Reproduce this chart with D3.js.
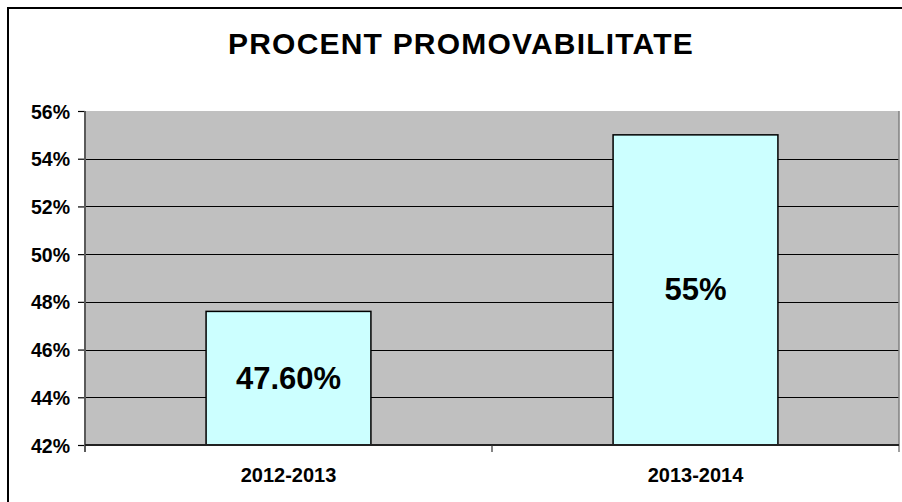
<!DOCTYPE html>
<html>
<head>
<meta charset="utf-8">
<script src="https://cdn.jsdelivr.net/npm/d3@7"></script>
<style>
  html, body { margin: 0; padding: 0; background: #fff; }
  svg { display: block; font-family: "Liberation Sans", Arial, sans-serif; }
</style>
</head>
<body>
<svg id="chart" width="902" height="502"></svg>
<script>
const title = "PROCENT PROMOVABILITATE";
const categories = ["2012-2013", "2013-2014"];
const values = [47.6, 55];
const valueLabels = ["47.60%", "55%"];
const yTicks = [42, 44, 46, 48, 50, 52, 54, 56];

const svg = d3.select("#chart");
const W = 902, H = 502;
const plot = { left: 85, right: 899, top: 111, bottom: 445 };

// outer frame
svg.append("rect")
  .attr("x", 8).attr("y", 8).attr("width", W).attr("height", H)
  .attr("fill", "#fff").attr("stroke", "#000").attr("stroke-width", 2);

const y = d3.scaleLinear().domain([42, 56]).range([plot.bottom, plot.top]);
const x = d3.scaleBand().domain(categories).range([plot.left, plot.right]).paddingInner(0).paddingOuter(0);

// plot background
svg.append("rect")
  .attr("x", plot.left).attr("y", plot.top)
  .attr("width", plot.right - plot.left).attr("height", plot.bottom - plot.top)
  .attr("fill", "#C0C0C0");

// gridlines
svg.append("g").selectAll("line")
  .data(yTicks.filter(t => t > 42 && t < 56))
  .join("line")
  .attr("x1", plot.left).attr("x2", plot.right)
  .attr("y1", d => Math.round(y(d)) + 0.5).attr("y2", d => Math.round(y(d)) + 0.5)
  .attr("stroke", "#000").attr("stroke-width", 1);

// bars
const barFrac = 0.405;
svg.append("g").selectAll("rect")
  .data(values)
  .join("rect")
  .attr("x", (d, i) => x(categories[i]) + x.bandwidth() * (1 - barFrac) / 2)
  .attr("width", x.bandwidth() * barFrac)
  .attr("y", d => y(d))
  .attr("height", d => plot.bottom - y(d))
  .attr("fill", "#CCFFFF")
  .attr("stroke", "#000").attr("stroke-width", 1.5);

// value labels
svg.append("g").selectAll("text")
  .data(values)
  .join("text")
  .attr("x", (d, i) => x(categories[i]) + x.bandwidth() / 2)
  .attr("y", d => (y(d) + plot.bottom) / 2 + 10.5)
  .attr("text-anchor", "middle")
  .attr("font-size", 31).attr("font-weight", "bold").attr("fill", "#000")
  .text((d, i) => valueLabels[i]);

// y axis
const yAxis = d3.axisLeft(y).tickValues(yTicks).tickSize(7).tickPadding(8)
  .tickFormat(d => d + "%");
const gy = svg.append("g").attr("transform", `translate(${plot.left},0)`).call(yAxis);
gy.select(".domain").remove();
gy.selectAll(".tick line").attr("stroke", "#000").attr("stroke-width", 1.2);
gy.selectAll(".tick text")
  .attr("font-size", 19.5).attr("font-weight", "bold").attr("fill", "#000")
  .attr("font-family", "'Liberation Sans', Arial, sans-serif")
  .attr("x", -15).attr("dy", "0.36em");

// left axis line (gray)
svg.append("line")
  .attr("x1", plot.left).attr("x2", plot.left)
  .attr("y1", plot.top).attr("y2", plot.bottom + 7)
  .attr("stroke", "#5a5a5a").attr("stroke-width", 2);
// right edge line
svg.append("line")
  .attr("x1", plot.right).attr("x2", plot.right)
  .attr("y1", plot.top).attr("y2", plot.bottom + 7)
  .attr("stroke", "#808080").attr("stroke-width", 1.5);

// x axis
const gx = svg.append("g").attr("transform", `translate(0,${plot.bottom})`);
gx.append("line")
  .attr("x1", plot.left).attr("x2", plot.right)
  .attr("y1", 0).attr("y2", 0)
  .attr("stroke", "#222").attr("stroke-width", 2);
const xTickPos = [plot.left, plot.left + x.bandwidth(), plot.right];
gx.selectAll(".xt").data(xTickPos.slice(1, 2)).join("line")
  .attr("class", "xt")
  .attr("x1", d => d).attr("x2", d => d).attr("y1", 0).attr("y2", 7)
  .attr("stroke", "#333").attr("stroke-width", 1.2);
gx.selectAll("text").data(categories).join("text")
  .attr("x", d => x(d) + x.bandwidth() / 2)
  .attr("y", 37)
  .attr("text-anchor", "middle")
  .attr("font-size", 20).attr("font-weight", "bold").attr("fill", "#000")
  .text(d => d);

// title
svg.append("text")
  .attr("x", 461).attr("y", 54)
  .attr("text-anchor", "middle")
  .attr("font-size", 30).attr("font-weight", "bold").attr("fill", "#000")
  .attr("letter-spacing", 1.2)
  .text(title);
</script>
</body>
</html>
